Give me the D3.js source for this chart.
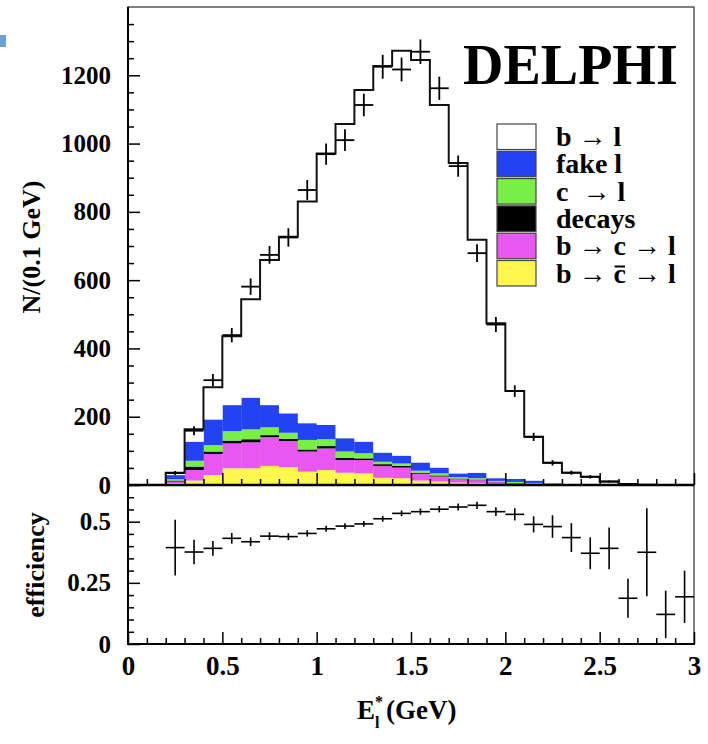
<!DOCTYPE html>
<html>
<head>
<meta charset="utf-8">
<script src="https://cdn.jsdelivr.net/npm/d3@7"></script>
<style>
  body { margin: 0; background: #fff; }
  text { font-family: "Liberation Serif", "Tinos", "Times New Roman", Times, "DejaVu Serif", serif; font-weight: bold; fill: #000; }
</style>
</head>
<body>
<svg id="chart" width="708" height="744"></svg>
<script>
// bins of 0.1 GeV, low edges
const binLow = [0.0, 0.1, 0.2, 0.3, 0.4, 0.5, 0.6, 0.7, 0.8, 0.9, 1.0, 1.1, 1.2, 1.3, 1.4,
                1.5, 1.6, 1.7, 1.8, 1.9, 2.0, 2.1, 2.2, 2.3, 2.4, 2.5, 2.6, 2.7, 2.8, 2.9];

// MC components (stacked from bottom to top)
const bCbarL = [0, 0, 5, 13, 29, 49, 49, 56, 52, 39, 44, 36, 34, 21, 20, 13, 10, 7, 6, 3, 2, 1, 0, 0, 0, 0, 0, 0, 0, 0];
const bCL    = [0, 0, 5, 31, 62, 73, 76, 84, 77, 59, 63, 37, 39, 35, 31, 20, 15, 10, 8, 5, 3, 2, 1, 0, 0, 0, 0, 0, 0, 0];
const decays = [0, 0, 3, 10, 7, 8, 9, 6, 6, 6, 7, 6, 5, 5, 5, 3, 3, 2, 2, 1, 1, 1, 0, 0, 0, 0, 0, 0, 0, 0];
const cL     = [0, 0, 4, 17, 19, 28, 29, 23, 18, 28, 20, 19, 15, 7, 7, 6, 6, 4, 4, 3, 3, 2, 1, 1, 1, 1, 0, 0, 0, 0];
const fakeL  = [0, 0, 12, 56, 75, 76, 93, 65, 57, 49, 42, 39, 34, 27, 23, 24, 17, 11, 16, 8, 9, 7, 3, 2, 1, 1, 0, 0, 0, 0];
const bL     = [0, 0, 7, 36, 94, 202, 288, 425, 517, 649, 795, 920, 1030, 1132, 1186, 1179, 1062, 909, 682, 454, 257, 128, 60, 33, 22, 8, 3, 1, 0, 0];

// data points
const dataE   = [0.25, 0.35, 0.45, 0.55, 0.65, 0.75, 0.85, 0.95, 1.05, 1.15, 1.25, 1.35, 1.45,
                 1.55, 1.65, 1.75, 1.85, 1.95, 2.05, 2.15, 2.25, 2.35, 2.45, 2.55, 2.65];
const dataN   = [35, 159, 307, 439, 581, 674, 725, 864, 969, 1010, 1113, 1225, 1217,
                 1269, 1162, 934, 679, 470, 275, 141, 65, 36, 24, 10, 3];
const dataErr = [6, 13, 18, 21, 24, 26, 27, 29, 31, 32, 33, 35, 35,
                 36, 34, 31, 26, 22, 17, 12, 8, 6, 5, 3, 2];

// efficiency
const effE   = [0.25, 0.35, 0.45, 0.55, 0.65, 0.75, 0.85, 0.95, 1.05, 1.15, 1.25, 1.35, 1.45, 1.55,
                1.65, 1.75, 1.85, 1.95, 2.05, 2.15, 2.25, 2.35, 2.45, 2.55, 2.65, 2.75, 2.85, 2.95];
const effVal = [0.394, 0.376, 0.391, 0.432, 0.418, 0.441, 0.439, 0.452, 0.471, 0.482, 0.491, 0.512, 0.534, 0.541,
                0.551, 0.560, 0.567, 0.541, 0.530, 0.489, 0.480, 0.435, 0.371, 0.391, 0.187, 0.375, 0.121, 0.193];
const effErr = [0.114, 0.05, 0.03, 0.022, 0.018, 0.016, 0.014, 0.013, 0.012, 0.012, 0.012, 0.012, 0.012, 0.013,
                0.013, 0.014, 0.015, 0.018, 0.025, 0.033, 0.046, 0.059, 0.065, 0.085, 0.08, 0.18, 0.097, 0.107];

const xTicks = [0, 0.5, 1, 1.5, 2, 2.5, 3];
const xTickLabels = ["0", "0.5", "1", "1.5", "2", "2.5", "3"];
const yTopTicks = [0, 200, 400, 600, 800, 1000, 1200];
const yBotTicks = [0, 0.25, 0.5];
const yBotLabels = ["0", "0.25", "0.5"];

const legendNames = ["b \u2192 l", "fake l", "c \u00a0\u2192 l", "decays", "b \u2192 c \u2192 l", "b \u2192 c \u2192 l"];
const legendColors = ["#ffffff", "#2342f2", "#78ef44", "#000000", "#e858f0", "#fff64e"];

const binW = 0.1;
const svg = d3.select("#chart");

const x = d3.scaleLinear().domain([0, 3]).range([128, 694]);
const yTop = d3.scaleLinear().domain([0, 1400]).range([485, 7]);
const yBot = d3.scaleLinear().domain([0, 0.65]).range([644, 485]);

// blue slide artifact at top left
svg.append("rect").attr("x", 0).attr("y", 35).attr("width", 6).attr("height", 12).attr("fill", "#6f9fd8");

// stacked histogram
const keys = ["bCbarL", "bCL", "decays", "cL", "fakeL", "bL"];
const keyColor = { bCbarL: "#fff64e", bCL: "#e858f0", decays: "#000000", cL: "#78ef44", fakeL: "#2342f2", bL: "#ffffff" };
const rows = binLow.map((lo, i) => ({
  lo, bCbarL: bCbarL[i], bCL: bCL[i], decays: decays[i], cL: cL[i], fakeL: fakeL[i], bL: bL[i]
}));
const stacked = d3.stack().keys(keys)(rows);

svg.append("g").selectAll("g")
  .data(stacked)
  .join("g")
    .attr("fill", d => keyColor[d.key])
  .selectAll("rect")
  .data(d => d)
  .join("rect")
    .attr("x", d => x(d.data.lo))
    .attr("width", x(binW) - x(0) + 0.3)
    .attr("y", d => yTop(d[1]))
    .attr("height", d => yTop(d[0]) - yTop(d[1]));

// total outline
const totals = rows.map(r => ({ lo: r.lo, t: keys.reduce((s, k) => s + r[k], 0) }));
totals.push({ lo: 3, t: 0 });
svg.append("path")
  .datum(totals)
  .attr("fill", "none")
  .attr("stroke", "#111")
  .attr("stroke-width", 2)
  .attr("d", d3.line().x(d => x(d.lo)).y(d => yTop(d.t)).curve(d3.curveStepAfter));

// frames
svg.append("rect").attr("x", 128).attr("y", 7).attr("width", 566).attr("height", 478)
  .attr("fill", "none").attr("stroke", "#555").attr("stroke-width", 1.5);
svg.append("rect").attr("x", 128).attr("y", 485).attr("width", 566).attr("height", 159)
  .attr("fill", "none").attr("stroke", "#555").attr("stroke-width", 1.5);
svg.append("line").attr("x1", 128).attr("x2", 128).attr("y1", 7).attr("y2", 645)
  .attr("stroke", "#000").attr("stroke-width", 2);
svg.append("line").attr("x1", 127).attr("x2", 694).attr("y1", 485).attr("y2", 485)
  .attr("stroke", "#000").attr("stroke-width", 2.5);
svg.append("line").attr("x1", 127).attr("x2", 695).attr("y1", 644).attr("y2", 644)
  .attr("stroke", "#000").attr("stroke-width", 2);

function styleAxis(g, size) {
  g.select(".domain").remove();
  g.attr("font-family", null).attr("font-size", size).attr("font-weight", "bold");
  g.selectAll("line").attr("stroke", "#000").attr("stroke-width", 1.5);
}

// top panel axes
const yTopMinor = d3.range(50, 1400, 50).filter(v => v % 200 !== 0);
svg.append("g").attr("transform", "translate(128,0)")
  .call(d3.axisLeft(yTop).tickValues(yTopMinor).tickSize(-6).tickFormat(""))
  .call(g => styleAxis(g, 24));
svg.append("g").attr("transform", "translate(128,0)")
  .call(d3.axisLeft(yTop).tickValues(yTopTicks).tickSize(-12).tickPadding(17).tickFormat(d3.format("d")))
  .call(g => styleAxis(g, 25));

const xMinor = d3.range(1, 30).map(i => i / 10).filter(v => Math.abs(v * 2 - Math.round(v * 2)) > 1e-6);
svg.append("g").attr("transform", "translate(0,485)")
  .call(d3.axisBottom(x).tickValues(xMinor).tickSize(-6).tickFormat(""))
  .call(g => styleAxis(g, 24));
svg.append("g").attr("transform", "translate(0,485)")
  .call(d3.axisBottom(x).tickValues(xTicks).tickSize(-12).tickFormat(""))
  .call(g => styleAxis(g, 24));

// bottom panel axes
const yBotMinor = d3.range(1, 13).map(i => i * 0.05).filter(v => Math.abs(v / 0.25 - Math.round(v / 0.25)) > 1e-6);
svg.append("g").attr("transform", "translate(128,0)")
  .call(d3.axisLeft(yBot).tickValues(yBotMinor).tickSize(-6).tickFormat(""))
  .call(g => styleAxis(g, 24));
svg.append("g").attr("transform", "translate(128,0)")
  .call(d3.axisLeft(yBot).tickValues(yBotTicks).tickSize(-12).tickPadding(17).tickFormat((d, i) => yBotLabels[i]))
  .call(g => styleAxis(g, 25));

svg.append("g").attr("transform", "translate(0,644)")
  .call(d3.axisBottom(x).tickValues(xMinor).tickSize(-6).tickFormat(""))
  .call(g => styleAxis(g, 24));
svg.append("g").attr("transform", "translate(0,644)")
  .call(d3.axisBottom(x).tickValues(xTicks).tickSize(-12).tickPadding(12).tickFormat((d, i) => xTickLabels[i]))
  .call(g => styleAxis(g, 27));

// data crosses
const dataG = svg.append("g").attr("stroke", "#000").attr("stroke-width", 1.8);
dataE.forEach((e, i) => {
  dataG.append("line").attr("x1", x(e - binW / 2)).attr("x2", x(e + binW / 2))
    .attr("y1", yTop(dataN[i])).attr("y2", yTop(dataN[i]));
  dataG.append("line").attr("x1", x(e)).attr("x2", x(e))
    .attr("y1", yTop(dataN[i] - dataErr[i])).attr("y2", yTop(dataN[i] + dataErr[i]));
});

// efficiency crosses
const effG = svg.append("g").attr("stroke", "#000").attr("stroke-width", 1.6);
effE.forEach((e, i) => {
  effG.append("line").attr("x1", x(e - binW / 2)).attr("x2", x(e + binW / 2))
    .attr("y1", yBot(effVal[i])).attr("y2", yBot(effVal[i]));
  effG.append("line").attr("x1", x(e)).attr("x2", x(e))
    .attr("y1", yBot(effVal[i] - effErr[i])).attr("y2", yBot(effVal[i] + effErr[i]));
});

// DELPHI label
svg.append("text").attr("x", 463).attr("y", 84).attr("font-size", 56).text("DELPHI");

// legend
const leg = svg.append("g");
legendNames.forEach((name, i) => {
  const top = 124 + i * 27.3;
  leg.append("rect").attr("x", 497).attr("y", top).attr("width", 39).attr("height", 25.5)
    .attr("fill", legendColors[i]).attr("stroke", "#444").attr("stroke-width", 1.2);
  const t = leg.append("text").attr("x", 556).attr("y", top + 22).attr("font-size", 28).text(name);
  if (i === 5) {
    // bar over the c
    const ext = t.node().getExtentOfChar(4);
    leg.append("line")
      .attr("x1", ext.x + 1).attr("x2", ext.x + ext.width - 1)
      .attr("y1", top + 6).attr("y2", top + 6)
      .attr("stroke", "#000").attr("stroke-width", 2);
  }
});

// axis titles
svg.append("text")
  .attr("transform", "translate(40,247) rotate(-90)")
  .attr("text-anchor", "middle").attr("font-size", 26)
  .text("N/(0.1 GeV)");
svg.append("text")
  .attr("transform", "translate(44,565) rotate(-90)")
  .attr("text-anchor", "middle").attr("font-size", 26)
  .text("efficiency");

const xt = svg.append("g");
xt.append("text").attr("x", 357).attr("y", 719).attr("font-size", 27).text("E");
xt.append("text").attr("x", 375).attr("y", 707).attr("font-size", 16).text("*");
xt.append("text").attr("x", 375).attr("y", 728).attr("font-size", 16).text("l");
xt.append("text").attr("x", 386).attr("y", 719).attr("font-size", 27).text("(GeV)");
</script>
</body>
</html>
